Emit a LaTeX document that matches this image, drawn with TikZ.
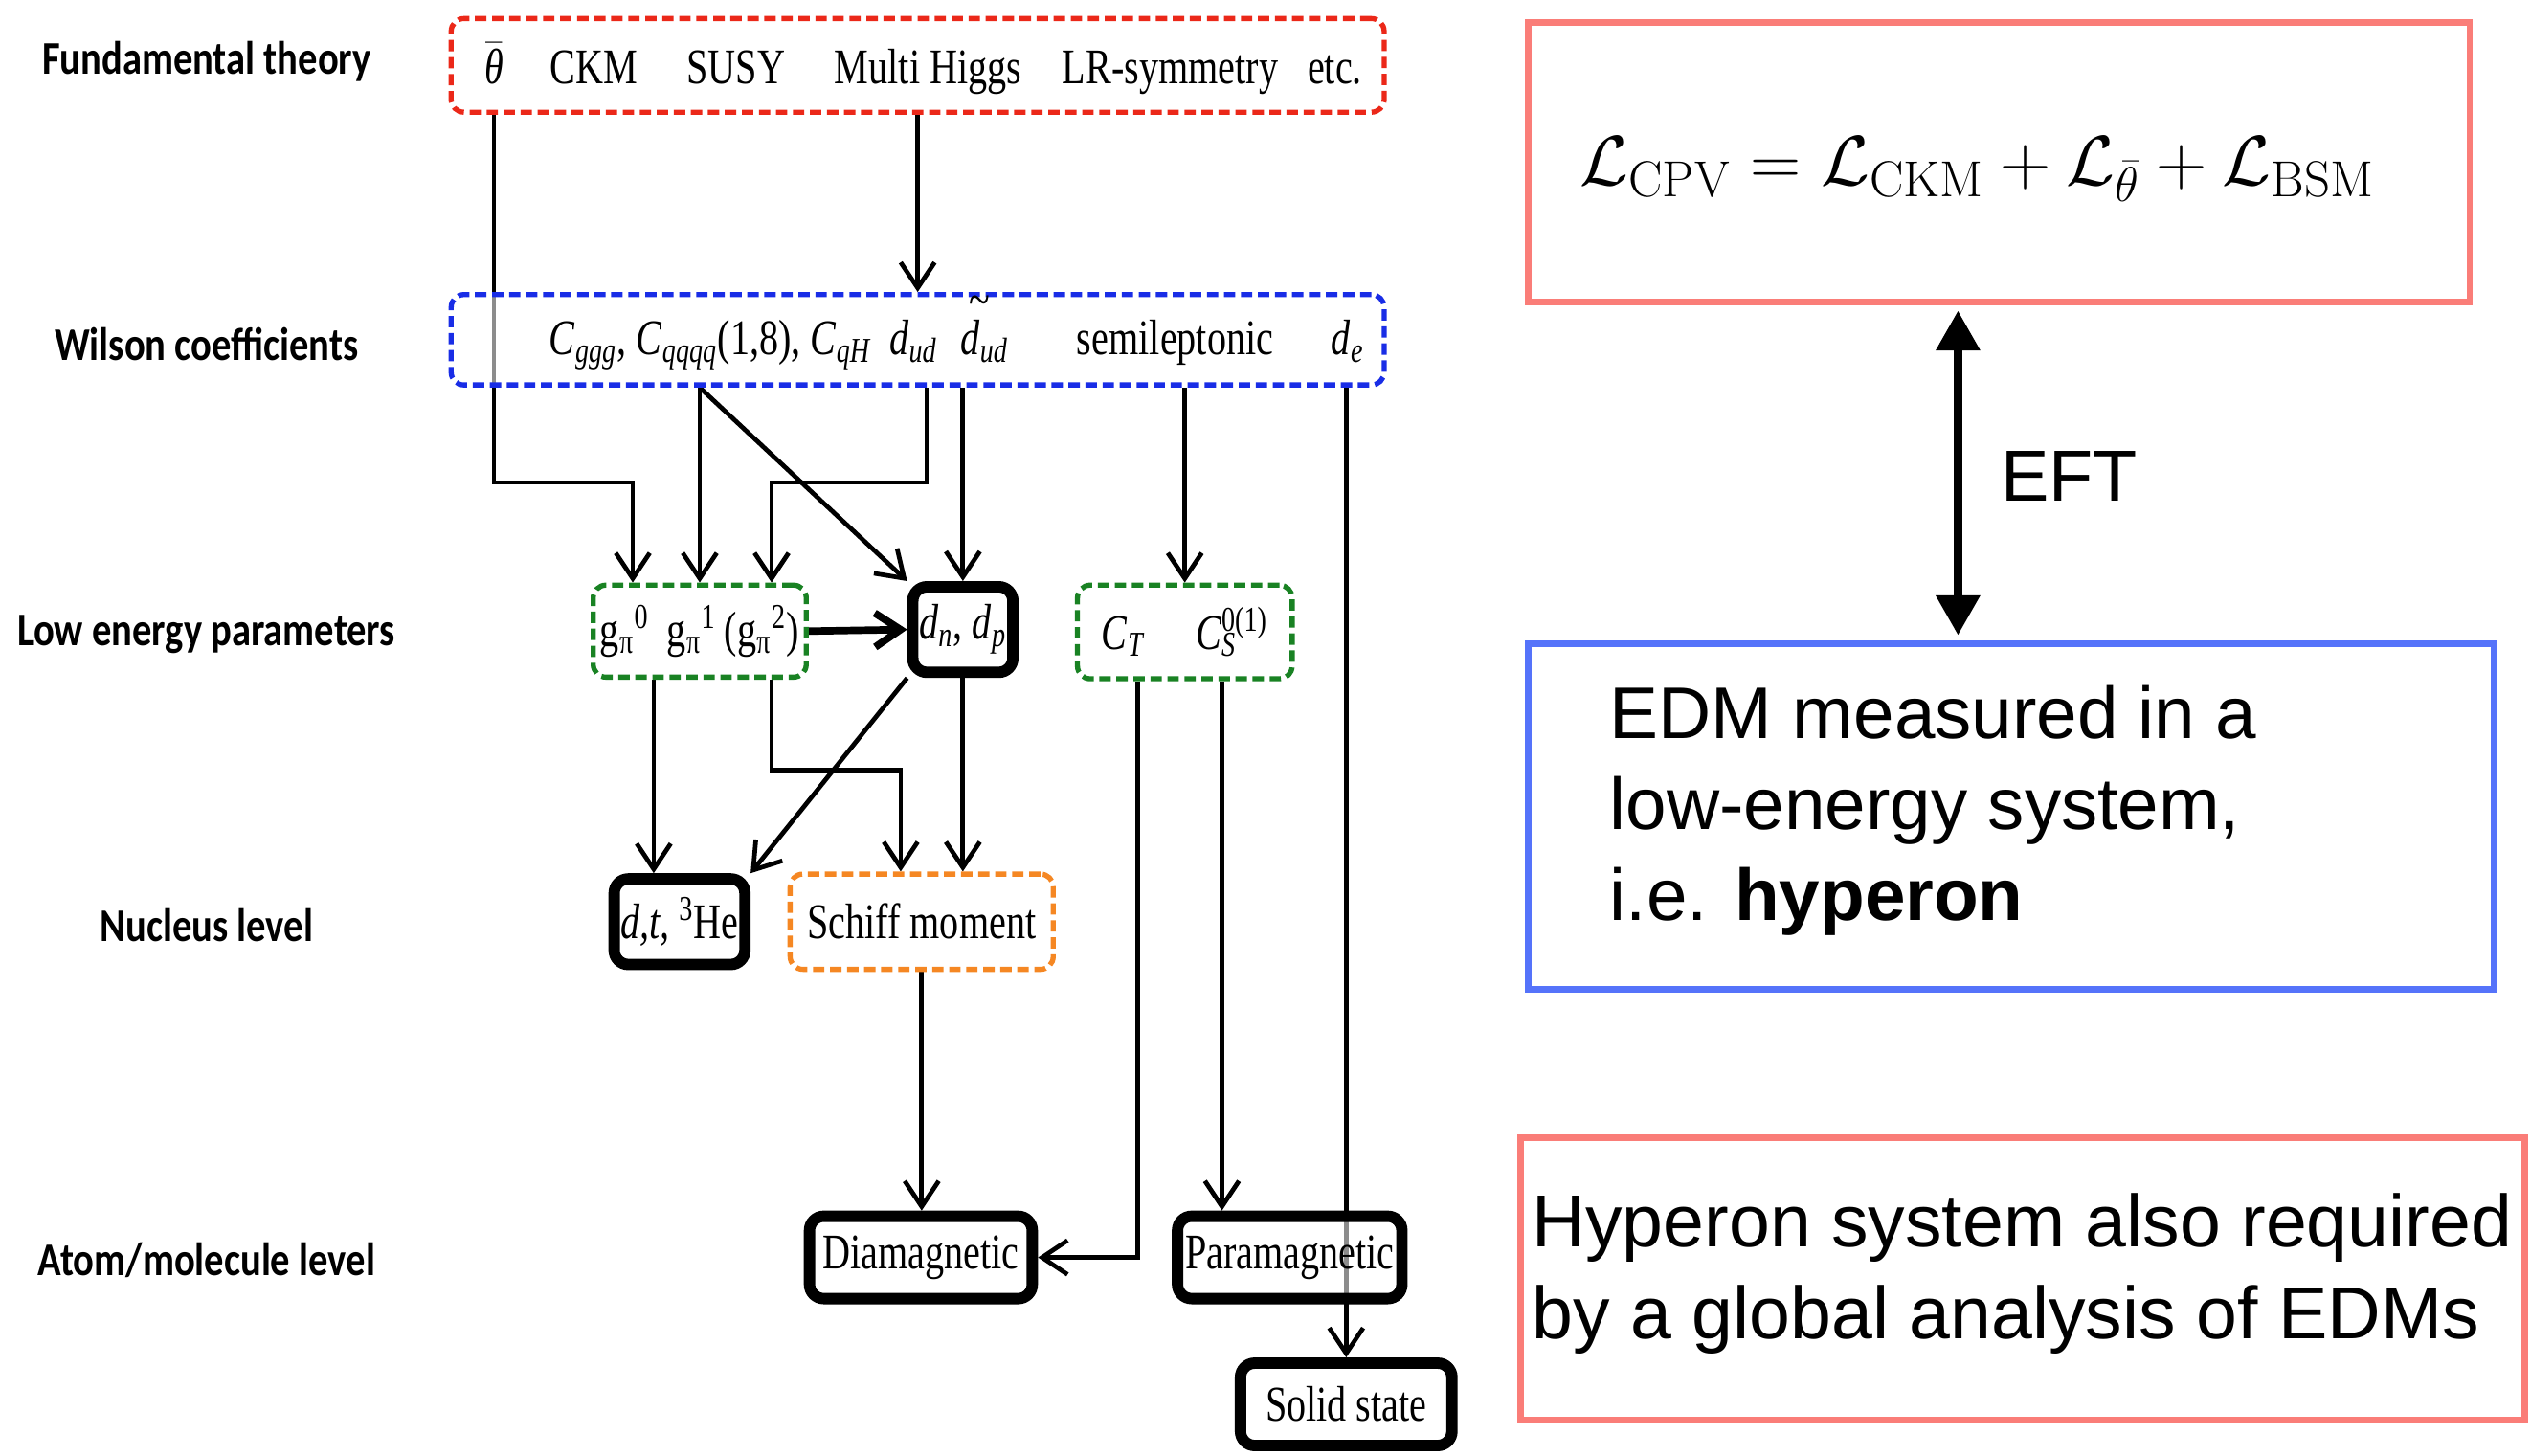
\documentclass[tikz,border=0pt]{standalone}
\usepackage{fontspec}
\newfontfamily\lbl[FakeStretch=0.83]{Carlito}
\newfontfamily\dg[FakeStretch=0.77]{Liberation Serif}
\newfontfamily\hv{Liberation Sans}
\usetikzlibrary{arrows.meta,calc,backgrounds}
\definecolor{dred}{RGB}{235,40,25}
\definecolor{dblue}{RGB}{25,45,230}
\definecolor{dgreen}{RGB}{25,130,35}
\definecolor{dorange}{RGB}{245,135,35}
\definecolor{salmon}{RGB}{250,125,120}
\definecolor{rblue}{RGB}{85,115,250}
\begin{document}
\begin{tikzpicture}[x=0.2mm,y=-0.2mm,
  lvl/.style={font=\lbl\bfseries\fontsize{16.5}{19}\selectfont, inner sep=0pt},
  dtext/.style={font=\dg\fontsize{17.6}{20}\selectfont, inner sep=0pt},
  dbox/.style={draw=#1, rounded corners=4.5pt, line width=1.8pt, dash pattern=on 4pt off 2pt, fill=white, fill opacity=0.55, text opacity=1, inner sep=0pt, font=\dg\fontsize{17.6}{20}\selectfont},
  tbox/.style={draw, rounded corners=5pt, line width=4pt, fill=white, fill opacity=0.55, text opacity=1, inner sep=0pt, font=\dg\fontsize{17.6}{20}\selectfont},
  conn/.style={line width=1.6pt, -{Straight Barb[length=9pt,width=12pt]}},
  rbox/.style={draw=#1, line width=2.3pt, inner sep=0pt},
]
\useasboundingbox (0,0) rectangle (1568,902);

% level labels
\node[lvl] (l1) at (128,38) {Fundamental theory};
\node[lvl] (l2) at (128,213) {Wilson coefficients};
\node[lvl] (l3) at (128,393) {Low energy parameters};
\node[lvl] (l4) at (128,573) {Nucleus level};
\node[lvl] (l5) at (128,781) {Atom/molecule level};

% boxes
\node[dbox=dred, minimum width=115.6mm, minimum height=11.6mm] (red) at (568.5,40.5) {};
\node[dbox=dblue, minimum width=115.6mm, minimum height=11.2mm] (blue) at (568.5,210.5) {};
\node[dbox=dgreen, minimum width=26.4mm, minimum height=11.4mm] (g1) at (433.5,391)
  {g\textsubscript{π}\textsuperscript{0}\, g\textsubscript{π}\textsuperscript{1}\,(g\textsubscript{π}\textsuperscript{2})};
\node[tbox, minimum width=12.4mm, minimum height=10.6mm] (dn) at (596.5,390)
  {\textit{d}\textsubscript{\textit{n}}, \textit{d}\textsubscript{\textit{p}}};
\node[dbox=dgreen, minimum width=26.6mm, minimum height=11.6mm] (g2) at (734,391.5)
  {\textit{C}\textsubscript{\textit{T}}\quad\textit{C}\rlap{\textsubscript{\textit{S}}}\textsuperscript{0(1)}};
\node[tbox, minimum width=16.2mm, minimum height=10.6mm] (dt) at (421,571)
  {\textit{d,t,} \textsuperscript{3}He};
\node[dbox=dorange, minimum width=32.6mm, minimum height=11.8mm] (schiff) at (571,571) {Schiff moment};
\node[tbox, minimum width=27.6mm, minimum height=10.2mm] (dia) at (570.5,779) {Diamagnetic};
\node[tbox, minimum width=27.8mm, minimum height=10.2mm] (para) at (799,779) {Paramagnetic};
\node[tbox, minimum width=26.2mm, minimum height=10.2mm] (solid) at (834,870) {Solid state};

% texts in the red box
\node[dtext, anchor=base] (theta) at (306,52) {$\bar{\hbox{\dg\itshape θ}}$};
\node[dtext, anchor=base] (ckm) at (368,52) {CKM};
\node[dtext, anchor=base] (susy) at (456,52) {SUSY};
\node[dtext, anchor=base] (mh) at (575,52) {Multi Higgs};
\node[dtext, anchor=base] (lr) at (725,52) {LR-symmetry};
\node[dtext, anchor=base] (etc) at (827,52) {etc.};

% texts in the blue box
\node[dtext, anchor=base west] (cw) at (340,220)
  {\textit{C}\textsubscript{\textit{ggg}}, \textit{C}\textsubscript{\textit{qqqq}}(1,8), \textit{C}\textsubscript{\textit{qH}}};
\node[dtext, anchor=base] (dud) at (566,220) {\textit{d}\textsubscript{\textit{ud}}};
\node[dtext, anchor=base] (dtud) at (610,220)
  {\makebox[0pt][l]{\raisebox{0.78em}{\hspace{0.16em}\~{}}}\textit{d}\textsubscript{\textit{ud}}};
\node[dtext, anchor=base] (semi) at (728,220) {semileptonic};
\node[dtext, anchor=base] (de) at (835,220) {\textit{d}\textsubscript{\textit{e}}};

% connectors
\begin{pgfonlayer}{background}
\draw[conn] (theta |- red.south) |- ($(g1.north)+(-41.5,-62)$) -- ($(g1.north)+(-41.5,0)$);
\draw[conn] (red.south) -- (blue.north);
\draw[conn] (g1.north |- blue.south) -- (g1.north);
\draw[conn] ($(blue.south)+(5.5,0)$) |- ($(g1.north)+(44.5,-62)$) -- ($(g1.north)+(44.5,0)$);
\draw[conn] (g1.north |- blue.south) -- (dn.north west);
\draw[conn] (dn.north |- blue.south) -- (dn.north);
\draw[conn] (g2.north |- blue.south) -- (g2.north);
\draw[conn] (solid.north |- blue.south) -- (solid.north);
\draw[conn, line width=2.6pt] (g1.east) -- (dn.west);
\draw[conn] ($(g1.south)+(-28.5,0)$) -- ($(dt.north)+(-16,0)$);
\draw[conn] ($(g1.south)+(44.5,0)$) |- ($(schiff.north)+(-13,-63)$) -- ($(schiff.north)+(-13,0)$);
\draw[conn] (dn.south west) -- (dt.north east);
\draw[conn] (dn.south) -- (dn.south |- schiff.north);
\draw[conn] ($(g2.south)+(-29,0)$) |- (dia.east);
\draw[conn] ($(g2.south)+(23,0)$) -- ($(para.north)+(-42,0)$);
\draw[conn] (schiff.south) -- (schiff.south |- dia.north);
\end{pgfonlayer}

% right side
\node[rbox=salmon, minimum width=116.6mm, minimum height=34.6mm] (lagr) at (1238.5,100.5) {};
\node[font=\fontsize{25.5}{29}\selectfont, inner sep=0pt] (form) at (1225,105)
  {$\mathcal{L}_{\mathrm{CPV}} = \mathcal{L}_{\mathrm{CKM}} + \mathcal{L}_{\bar\theta} + \mathcal{L}_{\mathrm{BSM}}$};
\node[rbox=rblue, minimum width=119.6mm, minimum height=42.8mm] (edm) at (1246,506) {};
\node[font=\hv\fontsize{25.8}{32}\selectfont, align=left, anchor=west, inner sep=0pt] (edmt) at (997,502)
  {EDM measured in a\\low-energy system,\\i.e. \textbf{hyperon}};
\node[rbox=salmon, minimum width=124.4mm, minimum height=35mm] (hyp) at (1253,792.5) {};
\node[font=\hv\fontsize{26}{32.4}\selectfont, align=left, anchor=west, inner sep=0pt] (hypt) at (949,789)
  {Hyperon system also required\\by a global analysis of EDMs};
\draw[line width=2.8pt, {Triangle[length=14pt,width=15pt]}-{Triangle[length=14pt,width=15pt]}, shorten <=2pt, shorten >=2pt]
  ($(lagr.south)+(-25.5,0)$) -- ($(edm.north)+(-33,0)$);
\node[font=\hv\fontsize{25.5}{30}\selectfont, inner sep=0pt] (eft) at (1282,295) {EFT};
\end{tikzpicture}
\end{document}
